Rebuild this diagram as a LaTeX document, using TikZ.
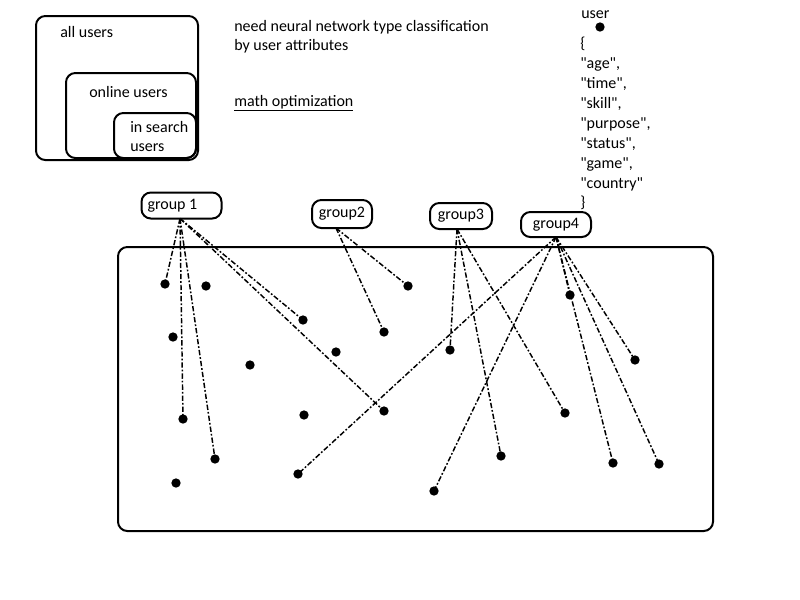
\documentclass[tikz,border=0pt]{standalone}
\usepackage{fontspec}
\setmainfont{Carlito}[Ligatures=TeXOff]
\begin{document}
\begin{tikzpicture}[x=0.75pt,y=-0.75pt,
  every node/.style={font=\fontsize{12}{14}\selectfont},
  frame/.style={draw,line width=1.5pt,rounded corners=7pt},
  lbl/.style={anchor=base west,inner sep=0pt},
  grp/.style={draw,line width=1.5pt,rounded corners=7pt,inner sep=0pt,
    minimum height=#1*0.75pt},
  dot/.style={circle,fill=black,inner sep=0pt,minimum size=7pt},
  link/.style={line width=1.1pt,dash pattern=on 4pt off 1.5pt on 1.3pt off 1.5pt}]
\useasboundingbox (0,0) rectangle (800,600);

% nested user sets
\draw[frame] (36,16) rectangle (198,160);
\draw[frame] (66,73) rectangle (196,158);
\draw[frame] (114,113) rectangle (196,158);
\node[lbl] (all) at (60,37) {all users};
\node[lbl] (online) at (89,97) {online users};
\node[lbl] (search1) at (130,132) {in search};
\node[lbl] (search2) at (130,151) {users};

% notes
\node[lbl] (need) at (234,31) {need neural network type classification};
\node[lbl] (attr) at (234,50) {by user attributes};
\node[lbl] (math) at (234,106) {\underline{math optimization}};

% user record
\node[lbl] (user) at (581,18) {user};
\node[dot] (udot) at (600,27) {};
\node[lbl] (ob) at (580,48) {\{};
\node[lbl] (f1) at (580,68) {"age",};
\node[lbl] (f2) at (580,88) {"time",};
\node[lbl] (f3) at (580,108) {"skill",};
\node[lbl] (f4) at (580,128) {"purpose",};
\node[lbl] (f5) at (580,148) {"status",};
\node[lbl] (f6) at (580,168) {"game",};
\node[lbl] (f7) at (580,188) {"country"};
\node[lbl] (cb) at (580,207) {\}};

% groups
\node[grp=26,minimum width=60pt,text width=51pt,align=flush left] (g1) at (181.5,205.5) {group 1};
\node[grp=28,minimum width=45pt] (g2) at (342,214) {group2};
\node[grp=26,minimum width=46.5pt] (g3) at (461,216) {group3};
\node[grp=25,minimum width=52.5pt] (g4) at (556,224.5) {group4};
\coordinate (p1) at (180,218.5);
\coordinate (p2) at (336,228);
\coordinate (p3) at (457,229);
\coordinate (p4) at (556,237);

% population
\draw[frame] (118,247) rectangle (713,531);
\foreach \n/\x/\y in {a/165/284, b/206/286, c/173/337, d/250/365, e/303/320,
  f/336/352, g/384/332, h/408/286, i/183/419, j/304/415, k/384/411,
  l/215/459, m/176/483, n/298/474, o/450/350, p/434/491, q/501/456,
  r/565/413, s/570/295, t/635/360, u/613/463, v/659/464}
  \node[dot] (\n) at (\x,\y) {};

% group membership
\foreach \d in {a,e,i,k,l} \draw[link] (p1) -- (\d.center);
\foreach \d in {g,h} \draw[link] (p2) -- (\d.center);
\foreach \d in {o,q,r} \draw[link] (p3) -- (\d.center);
\foreach \d in {n,p,s,t,u,v} \draw[link] (p4) -- (\d.center);
\end{tikzpicture}
\end{document}
